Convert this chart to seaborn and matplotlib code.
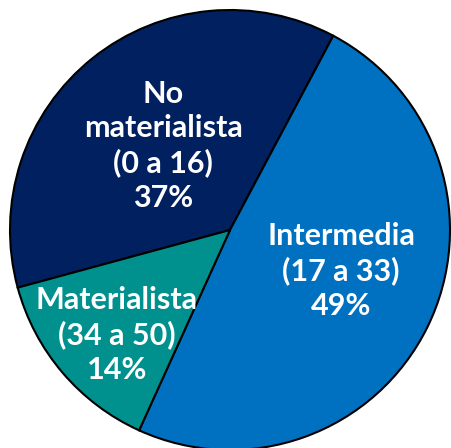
import matplotlib
matplotlib.use("Agg")
import matplotlib.pyplot as plt
import seaborn as sns

# datos
categorias = ["No\nmaterialista\n(0 a 16)", "Intermedia\n(17 a 33)", "Materialista\n(34 a 50)"]
porcentajes = [37, 49, 14]
colores = ["#002060", "#0070C0", "#00918F"]

sns.set_theme(style="white")
plt.rcParams['font.family'] = ['Lato', 'DejaVu Sans']

fig = plt.figure(figsize=(4.51, 4.48), dpi=100)
# circulo: centro (230, 230) px, radio 220 px
ax = fig.add_axes([10 / 451, (448 - 450) / 448, 440 / 451, 440 / 448])

wedges, _ = ax.pie(
    porcentajes,
    colors=colores,
    startangle=195.2,
    counterclock=False,
    radius=1,
    wedgeprops=dict(edgecolor="black", linewidth=1.5),
)
ax.set_xlim(-1, 1)
ax.set_ylim(-1, 1)
ax.set_aspect("equal")
ax.axis("off")

# posiciones de etiquetas (px de la imagen)
pos_etiquetas = [(163, 146), (341, 271), (117, 335)]
for cat, pct, (px, py) in zip(categorias, porcentajes, pos_etiquetas):
    ax.text((px - 230) / 220, (230 - py) / 220, f"{cat}\n{pct}%",
            ha="center", va="center", color="white", fontsize=22,
            fontweight="bold", linespacing=1.26)

fig.savefig("out.png", dpi=100)
